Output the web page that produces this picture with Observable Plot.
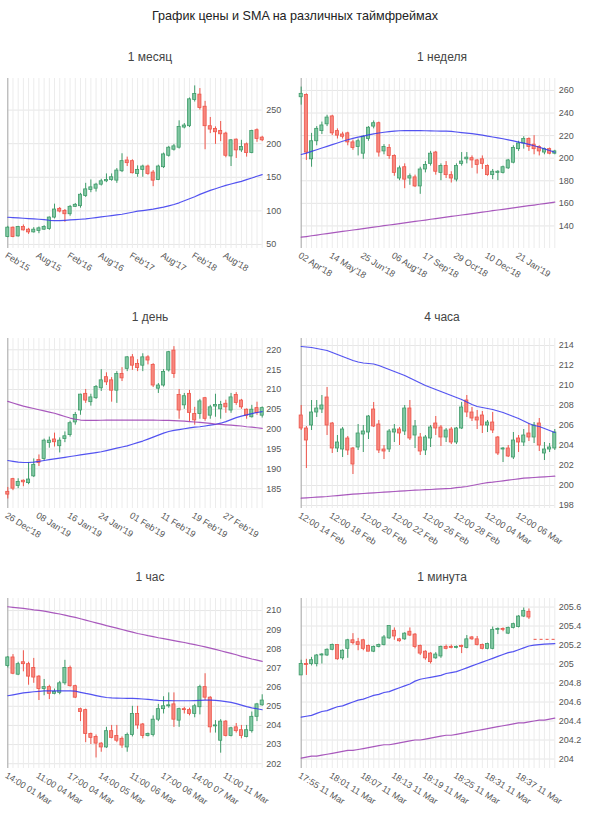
<!DOCTYPE html>
<html>
<head>
<meta charset="utf-8">
<script src="https://cdn.jsdelivr.net/npm/d3@7"></script>
<script src="https://cdn.jsdelivr.net/npm/@observablehq/plot@0.6"></script>
<style>
  body { margin: 0; background: #fff; font-family: "Liberation Sans", Arial, sans-serif; }
  #wrap { position: relative; width: 590px; height: 823px; }
  .title { position: absolute; left: 0; top: 0; width: 590px; height: 32px; line-height: 32px; text-align: center; font-size: 12.6px; color: #222; }
  .sub { position: absolute; height: 34px; line-height: 34px; text-align: center; font-size: 12px; color: #444; }
  .cell { position: absolute; }
</style>
</head>
<body>
<div id="wrap">
  <div class="title">График цены и SMA на различных таймфреймах</div>
</div>
<script>
// ---------- DATA ----------
const panelTitles = ["1 месяц", "1 неделя", "1 день", "4 часа", "1 час", "1 минута"];

// candles as [open, high, low, close]
const monthOHLC = [[61,77,60,75],[75,76,60,61],[62,77,61,76],[76,79,70,71],[72,74,65,68],[68,75,67,72],[70,76,66,74],[72,78,71,76],[73,91,71,90],[90,110,88,102],[103,105,97,99],[100,102,83,95],[95,108,92,106],[106,111,105,109],[107,126,104,124],[122,141,120,132],[131,146,127,135],[133,141,128,139],[139,147,137,144],[144,155,142,146],[146,155,144,150],[145,163,141,160],[159,185,157,174],[175,180,166,171],[174,176,155,156],[155,167,150,161],[161,168,150,166],[166,168,153,155],[157,160,136,145],[146,168,145,166],[165,186,163,184],[182,196,180,194],[191,199,189,196],[194,234,192,225],[224,230,222,227],[226,268,224,266],[265,286,262,274],[273,282,250,253],[255,263,191,226],[226,239,215,221],[222,225,199,217],[219,233,203,214],[215,217,179,182],[181,206,166,205],[206,207,178,190],[190,205,187,195],[199,201,180,186],[186,220,185,219],[220,222,202,207],[209,211,203,205]];
const monthSmaBlue = [90.5,90,89.5,89,88.5,88,87.5,87,86,85.5,85.5,86,86.5,87,87.5,88,89,90,91,92,93,94,95,96.5,98,99.5,100.5,101.5,102.5,104,105.5,107.5,109.5,112,115,118,121,124.5,127.5,130.5,133,135.5,138,140,142,144,146.5,149,151.5,154];
const monthLabels = ["Feb'15","Aug'15","Feb'16","Aug'16","Feb'17","Aug'17","Feb'18","Aug'18"];

const weekOHLC = [[254,263,247,257],[256,257,198,205],[199,222,192,215],[215,228,211,226],[224,232,221,229],[230,238,228,236],[237,238,220,222],[224,226,217,220],[221,223,217,219],[222,223,211,214],[214,216,207,209],[210,217,202,215],[204,220,199,219],[217,228,215,227],[228,233,226,231],[231,232,201,205],[206,212,203,210],[209,212,199,202],[202,203,184,187],[182,193,180,191],[192,195,173,181],[182,186,176,184],[183,185,174,175],[175,192,168,190],[190,197,187,194],[195,206,193,204],[205,206,185,188],[187,195,180,193],[193,197,182,185],[185,188,178,182],[181,195,179,193],[195,205,193,197],[199,205,195,200.5],[200,202,191,198],[198,199,186,194],[199,202,190,195],[193,194,184,185],[185,190,181,188],[187,189,180,188],[187,193,186,192],[191,199,190,198],[196,211,195,209],[208,215,206,213],[213,219,208,217],[217,218,206,210],[212,220,203,208],[210,211,202,206],[205,209,203,208],[208,209,203,204],[204,207,203,206]];
const weekSmaBlue = [203.3,204.5,206,207.5,209,210.5,212,213.5,215,216.3,217.5,218.6,219.6,220.6,221.5,222.3,223,223.6,224,224.3,224.5,224.5,224.5,224.4,224.3,224.2,224.1,224,223.9,223.7,223.2,222.7,222.2,221.7,221.1,220.4,219.6,218.8,218,217.2,216.3,215.3,214.3,213.3,212.2,211,209.7,208.3,206.8,205.3];
const weekSmaPurple = [130,130.6,131.3,131.9,132.6,133.2,133.8,134.5,135.1,135.7,136.4,137,137.6,138.3,138.9,139.5,140.2,140.8,141.4,142.1,142.7,143.3,144,144.6,145.2,145.9,146.5,147.1,147.8,148.4,149,149.7,150.3,150.9,151.6,152.2,152.8,153.5,154.1,154.7,155.4,156,156.6,157.3,157.9,158.5,159.2,159.8,160.5,161.1];
const weekLabels = ["02 Apr'18","14 May'18","25 Jun'18","06 Aug'18","17 Sep'18","29 Oct'18","10 Dec'18","21 Jan'19"];

const dayOHLC = [[184.2,185.3,182.4,183.5],[187.4,187.6,184.5,185],[185.7,187.5,185,186.7],[187,187.2,185.5,186.6],[186.4,191.6,186,187.3],[188.1,192.5,187.8,191],[192.2,193.5,190.6,191.5],[192.5,197.5,192,197.1],[196.5,198,195.2,197.1],[197.4,199,195.5,196.7],[195.7,197.8,194,197.1],[197.5,199.3,196.6,198.2],[198.5,202,198,201.5],[201.7,204.2,201,203.6],[204.7,208.8,203.5,208.7],[208.9,210,206.5,207.2],[206.8,208.8,205.8,208],[207.8,211,207.5,210.6],[210.3,215,209.5,212.3],[213.1,214.2,211,211.8],[212.3,213,206.8,209.7],[209.7,214.5,206.5,213.9],[213.9,215.5,212,212.8],[215.2,218.3,214.5,218.1],[218.1,218.8,214.8,216],[216.4,217.5,214.5,215.4],[216,219,214.5,218.1],[218.1,218.5,216.2,217.3],[216.2,216.5,210.5,211],[210.2,211.5,209,211],[211,215,210.6,214.4],[214.8,219.6,214.4,219.4],[219.8,220.8,212.8,213.9],[208.6,210,202.5,204.7],[206,209,205,208.3],[208.9,209.8,201.8,204.1],[203.8,205.5,201,202.2],[203.8,207.5,202.5,207],[207.8,208,202,202.6],[203.4,206,202.5,205.5],[205.7,208.8,203,206.1],[205,207,202.5,206.1],[206.4,207.3,204,205.5],[204.7,209,204,208],[208.6,209.2,206,206.6],[207.2,207.5,205,205.5],[204.9,205.1,202.5,203.4],[203,206,202.8,204.9],[205.3,206.8,203.5,204.1],[203.4,205.6,202.8,205.3]];
const daySmaBlue = [192.1,191.9,191.7,191.6,191.6,191.7,191.9,192.1,192.3,192.5,192.7,192.9,193.1,193.3,193.5,193.7,193.9,194.1,194.3,194.6,194.9,195.2,195.5,195.8,196.2,196.6,197,197.5,198,198.5,199,199.4,199.7,199.9,200.1,200.3,200.5,200.6,200.8,201,201.2,201.5,201.9,202.4,202.9,203.3,203.6,203.9,204.2,204.4];
const daySmaPurple = [207,206.6,206.2,205.8,205.5,205.2,204.9,204.6,204.3,204,203.6,203.2,202.8,202.5,202.3,202.2,202.2,202.2,202.25,202.3,202.3,202.3,202.3,202.3,202.3,202.3,202.3,202.3,202.3,202.25,202.2,202.2,202.15,202.1,202,201.9,201.8,201.7,201.6,201.45,201.3,201.2,201.1,201,200.9,200.8,200.6,200.5,200.35,200.2];
const dayLabels = ["26 Dec'18","08 Jan'19","16 Jan'19","24 Jan'19","01 Feb'19","11 Feb'19","19 Feb'19","27 Feb'19"];

const h4OHLC = [[207,208,205.5,205.7],[205.7,205.9,201.7,204.5],[206,208.5,205.5,207.3],[207.3,208.5,206.8,207.7],[207.6,209,207.2,208],[208.8,209.8,205,206],[206.2,206.3,203.2,203.7],[203.7,205,203.3,204.3],[203.6,205.8,202.8,205.6],[204.7,204.9,203,203.5],[203.7,203.8,201.1,202.1],[203.8,206.1,203.5,205.2],[205.1,206,203.3,205.4],[205.3,207,204.6,206.9],[207.6,208.3,205.8,205.9],[206.1,206.5,203.2,203.5],[203.6,204,202.6,203.4],[203.6,205.6,203.3,205.4],[205.3,206.1,204.3,205.6],[205.6,205.8,204,205.2],[205.4,208,205,207.7],[207.7,208.5,204.5,204.7],[205,206.5,203.7,205.9],[204.8,205.2,203,203.4],[203.5,205,203,204.8],[204.7,206,203.8,205.8],[206.2,206.9,205,205.7],[205.8,206,203.9,204.8],[204.8,205.7,204.3,205.5],[205.6,205.8,204.1,204.3],[204.3,205.8,204.1,205.7],[205.7,208.3,205.6,207.8],[208.5,209,206.8,207.3],[207.3,207.8,206.4,206.7],[206.8,207.5,205.6,206.5],[207,207.4,205.2,206],[206,206.5,205.3,206.3],[206.3,207.3,205.2,205.5],[204.8,204.9,203,203.2],[203.6,203.8,202.3,203.7],[203.7,204,202.8,202.9],[202.8,205.3,202.6,204.5],[204.7,205,203.3,204.3],[204.3,205.6,203.9,205],[205.2,206.2,204.4,204.8],[204.8,206.3,204.2,206],[206.2,206.7,203.4,204],[203.2,204.3,202.5,203.6],[203.6,204.2,203.3,203.8],[203.7,205.6,203.5,205.3]];
const h4SmaBlue = [213.9,213.85,213.8,213.7,213.6,213.5,213.3,213.1,212.9,212.7,212.5,212.35,212.25,212.2,212.15,212,211.8,211.6,211.4,211.2,211,210.75,210.5,210.25,210,209.8,209.6,209.4,209.2,209,208.8,208.6,208.35,208.1,207.9,207.8,207.7,207.6,207.45,207.3,207.1,206.9,206.7,206.45,206.2,206,205.9,205.7,205.5,205.3];
const h4SmaPurple = [198.73,198.76,198.8,198.83,198.87,198.9,198.95,198.99,199.04,199.08,199.13,199.17,199.2,199.24,199.27,199.3,199.33,199.37,199.4,199.43,199.47,199.5,199.53,199.55,199.58,199.6,199.63,199.66,199.69,199.72,199.78,199.83,199.9,200,200.1,200.2,200.28,200.33,200.4,200.47,200.54,200.6,200.67,200.73,200.77,200.8,200.84,200.87,200.9,200.93];
const h4Labels = ["12:00 14 Feb","12:00 18 Feb","12:00 20 Feb","12:00 22 Feb","12:00 26 Feb","12:00 28 Feb","12:00 04 Mar","12:00 06 Mar"];

const h1OHLC = [[207.1,207.6,207,207.55],[207.55,207.7,206.65,206.7],[206.65,207.3,206.6,207.2],[207.3,207.9,206.8,207.2],[207.2,207.3,206.1,206.55],[207,207.5,206.2,206.5],[206.55,206.6,205.3,205.9],[205.9,206.4,205.55,206],[206,206.1,205.35,205.65],[205.65,205.9,205.6,205.75],[205.7,206.3,205.6,206.2],[206.2,207.4,206.1,207],[207,207.1,206,206.05],[206.05,206.1,205.4,205.45],[204.85,204.9,204.2,204.7],[204.8,204.85,203.1,203.55],[203.55,203.6,203,203.35],[203.4,203.5,202.3,203.05],[203.05,203.1,202.6,202.85],[202.85,203.9,202.8,203.7],[203.7,204,203.3,203.35],[203.45,204,203.1,203.2],[203.3,203.4,202.8,202.95],[202.85,203.6,202.6,203.5],[203.5,205,203.4,204.6],[204.6,205,203.8,204],[204.05,204.1,203.3,203.45],[203.45,203.6,203.4,203.55],[203.5,204.5,203.4,204.3],[204.3,205.1,204.2,204.85],[204.85,205.5,204.6,205],[205,205.7,204.9,205.05],[205.1,205.7,203.9,204.3],[204.25,204.9,203.9,204.85],[204.85,204.95,204.6,204.8],[204.8,204.9,204.5,204.6],[204.6,205.1,204.4,205],[204.95,206.1,204.55,206],[206,206.7,205.3,205.45],[205.45,205.5,203.6,203.9],[203.95,204.25,203.6,204],[203.2,204.3,202.55,204.2],[204.2,204.25,203.4,203.45],[203.45,203.9,203.4,203.85],[203.9,204.1,203.6,203.7],[203.75,204,203.3,203.45],[203.4,204,203.35,203.75],[203.7,204.7,203.6,204.45],[204.45,205.15,204.2,205.1],[205.05,205.6,205,205.3]];
const h1SmaBlue = [205.55,205.6,205.65,205.7,205.73,205.76,205.78,205.8,205.8,205.8,205.8,205.8,205.8,205.79,205.73,205.67,205.62,205.56,205.5,205.46,205.44,205.43,205.42,205.41,205.41,205.4,205.38,205.36,205.33,205.31,205.3,205.3,205.29,205.29,205.29,205.29,205.3,205.31,205.32,205.32,205.31,205.28,205.24,205.2,205.14,205.06,204.98,204.92,204.87,204.82];
const h1SmaPurple = [210.2,210.17,210.14,210.11,210.08,210.04,210.01,209.97,209.92,209.87,209.82,209.76,209.7,209.64,209.57,209.5,209.43,209.36,209.29,209.21,209.15,209.08,209.01,208.94,208.87,208.8,208.75,208.69,208.64,208.58,208.53,208.48,208.43,208.38,208.33,208.27,208.22,208.16,208.1,208.04,207.97,207.9,207.83,207.76,207.69,207.61,207.54,207.47,207.41,207.35];
const h1Labels = ["14:00 01 Mar","11:00 04 Mar","17:00 04 Mar","14:00 05 Mar","11:00 06 Mar","17:00 06 Mar","14:00 07 Mar","11:00 11 Mar"];

const m1OHLC = [[204.88,205.04,204.88,205.0],[205.0,205.05,204.88,204.99],[205.0,205.07,204.98,205.04],[205.0,205.1,204.97,205.09],[205.09,205.11,205.0,205.1],[205.09,205.16,205.08,205.15],[205.15,205.21,205.14,205.2],[205.2,205.2,205.04,205.05],[205.06,205.15,205.04,205.14],[205.16,205.26,205.06,205.25],[205.25,205.32,205.2,205.22],[205.23,205.27,205.14,205.2],[205.25,205.26,205.14,205.16],[205.19,205.2,205.13,205.13],[205.13,205.19,205.12,205.18],[205.18,205.21,205.17,205.2],[205.2,205.3,205.19,205.28],[205.27,205.4,205.26,205.4],[205.35,205.38,205.25,205.29],[205.26,205.27,205.23,205.24],[205.26,205.33,205.25,205.32],[205.34,205.38,205.29,205.3],[205.31,205.32,205.16,205.18],[205.19,205.2,205.09,205.11],[205.13,205.14,205.04,205.06],[205.11,205.12,205.0,205.02],[205.06,205.12,205.05,205.1],[205.08,205.19,205.06,205.18],[205.18,205.2,205.15,205.16],[205.18,205.2,205.16,205.17],[205.17,205.19,205.16,205.18],[205.19,205.2,205.11,205.18],[205.17,205.3,205.16,205.26],[205.28,205.29,205.25,205.26],[205.26,205.29,205.19,205.2],[205.2,205.21,205.15,205.16],[205.16,205.22,205.15,205.21],[205.16,205.39,205.15,205.36],[205.36,205.38,205.31,205.37],[205.37,205.38,205.34,205.36],[205.32,205.39,205.31,205.38],[205.38,205.43,205.37,205.42],[205.39,205.51,205.38,205.5],[205.5,205.59,205.49,205.56],[205.55,205.58,205.47,205.49]];
const m1SmaBlue = [204.44,204.45,204.46,204.48,204.5,204.51,204.53,204.55,204.56,204.58,204.6,204.62,204.63,204.65,204.67,204.68,204.7,204.71,204.73,204.75,204.77,204.79,204.82,204.84,204.85,204.86,204.87,204.88,204.9,204.91,204.92,204.94,204.96,204.98,205.0,205.02,205.04,205.06,205.08,205.1,205.12,205.13,205.15,205.17,205.19,205.2,205.205,205.21,205.213,205.215];
const m1SmaPurple = [204.01,204.02,204.03,204.03,204.04,204.05,204.06,204.07,204.08,204.09,204.09,204.1,204.11,204.12,204.13,204.14,204.15,204.15,204.16,204.17,204.18,204.19,204.2,204.2,204.21,204.22,204.23,204.24,204.25,204.25,204.26,204.27,204.28,204.29,204.3,204.31,204.32,204.33,204.34,204.35,204.36,204.37,204.38,204.38,204.39,204.4,204.41,204.41,204.42,204.43];
const m1Labels = ["17:55 11 Mar","18:01 11 Mar","18:07 11 Mar","18:13 11 Mar","18:19 11 Mar","18:25 11 Mar","18:31 11 Mar","18:37 11 Mar"];
const m1PriceLine = [205.26];

// ---------- STYLE / LAYOUT ----------
const GREEN_FILL = "#7fc6a1", GREEN_STROKE = "#3e9b69";
const RED_FILL = "#f6877e", RED_STROKE = "#ee5449";
const BLUE = "#3535ee", PURPLE = "#9a3cb2";
const TICK_EVERY = 6;

const panels = [
  {title: panelTitles[0], ohlc: monthOHLC, blue: monthSmaBlue, purple: null, labels: monthLabels, domain: [44, 297], ticks: [50,100,150,200,250], col: 0, row: 0},
  {title: panelTitles[1], ohlc: weekOHLC, blue: weekSmaBlue, purple: weekSmaPurple, labels: weekLabels, domain: [120, 270.6], ticks: [140,160,180,200,220,240,260], col: 1, row: 0},
  {title: panelTitles[2], ohlc: dayOHLC, blue: daySmaBlue, purple: daySmaPurple, labels: dayLabels, domain: [180, 222.85], ticks: [185,190,195,200,205,210,215,220], col: 0, row: 1},
  {title: panelTitles[3], ohlc: h4OHLC, blue: h4SmaBlue, purple: h4SmaPurple, labels: h4Labels, domain: [197.7, 214.7], ticks: [198,200,202,204,206,208,210,212,214], col: 1, row: 1},
  {title: panelTitles[4], ohlc: h1OHLC, blue: h1SmaBlue, purple: h1SmaPurple, labels: h1Labels, domain: [201.75, 210.63], ticks: [202,203,204,205,206,207,208,209,210], col: 0, row: 2},
  {title: panelTitles[5], ohlc: m1OHLC, blue: m1SmaBlue, purple: m1SmaPurple, labels: m1Labels, domain: [203.9, 205.69], ticks: [204,204.2,204.4,204.6,204.8,205,205.2,205.4,205.6], col: 1, row: 2, fmt: d3.format(".1~f"), priceLine: m1PriceLine}
];

const wrap = document.getElementById("wrap");

for (const p of panels) {
  const cellTop = 40 + p.row * 260;
  const left = p.col === 0 ? 0 : 290;
  const width = p.col === 0 ? 295 : 300;
  const mLeft = p.col === 0 ? 7.3 : 10.7;
  const mRight = p.col === 0 ? 33.3 : 35.7;

  const sub = document.createElement("div");
  sub.className = "sub";
  sub.style.top = cellTop + "px";
  sub.style.left = (p.col === 0 ? 0 : 290) + "px";
  sub.style.width = (p.col === 0 ? 300 : 304) + "px";
  sub.textContent = p.title;
  wrap.appendChild(sub);

  const candles = p.ohlc.map(([o, h, l, c], i) => ({i, o, h, l, c, up: c >= o}));
  const blue = p.blue.map((v, i) => ({i, v}));
  const purple = p.purple ? p.purple.map((v, i) => ({i, v})) : [];
  const slots = blue.map(d => d.i);
  const n = p.blue.length;
  const tickIdx = p.labels.map((_, k) => k * TICK_EVERY);

  const marks = [
    Plot.gridY(p.ticks, {stroke: "#e6e6e6", strokeOpacity: 1}),
    Plot.gridX(slots, {stroke: "#ececec", strokeOpacity: 1}),
    Plot.ruleX([0], {stroke: "#aaa", strokeWidth: 1}),
    Plot.ruleX(candles, {x: "i", y1: "l", y2: "h", stroke: d => d.up ? GREEN_STROKE : RED_STROKE, strokeWidth: 1}),
    Plot.rect(candles, {x1: d => d.i - 0.3, x2: d => d.i + 0.3, y1: "o", y2: "c",
      fill: d => d.up ? GREEN_FILL : RED_FILL, stroke: d => d.up ? GREEN_STROKE : RED_STROKE, strokeWidth: 0.8}),
    Plot.line(blue, {x: "i", y: "v", stroke: BLUE, strokeWidth: 1.2, strokeOpacity: 0.85}),
  ];
  if (purple.length) marks.push(Plot.line(purple, {x: "i", y: "v", stroke: PURPLE, strokeWidth: 1.2, strokeOpacity: 0.85}));
  if (p.priceLine) marks.push(Plot.ruleY(p.priceLine, {x1: p.ohlc.length, x2: n - 0.5, stroke: RED_STROKE, strokeWidth: 1, strokeDasharray: "3,3"}));
  marks.push(Plot.axisY(p.ticks, {anchor: "right", tickSize: 0, tickPadding: 4, fontSize: 9, fill: "#555", label: null, tickFormat: p.fmt || (d => String(d))}));
  marks.push(Plot.axisX(tickIdx, {anchor: "bottom", tickSize: 0, tickPadding: 3, tickRotate: 32, textAnchor: "start", lineAnchor: "top",
    fontSize: 9, fill: "#555", label: null, tickFormat: i => p.labels[i / TICK_EVERY]}));

  const chart = Plot.plot({
    width, height: 226,
    marginTop: 4, marginBottom: 52, marginLeft: mLeft, marginRight: mRight,
    style: {fontFamily: "'Liberation Sans', Arial, sans-serif", background: "transparent", overflow: "visible"},
    x: {type: "linear", domain: [0, n - 1], label: null},
    y: {domain: p.domain, label: null},
    marks
  });
  const cell = document.createElement("div");
  cell.className = "cell";
  cell.style.left = left + "px";
  cell.style.top = (cellTop + 34) + "px";
  cell.appendChild(chart);
  wrap.appendChild(cell);
}
</script>
</body>
</html>
